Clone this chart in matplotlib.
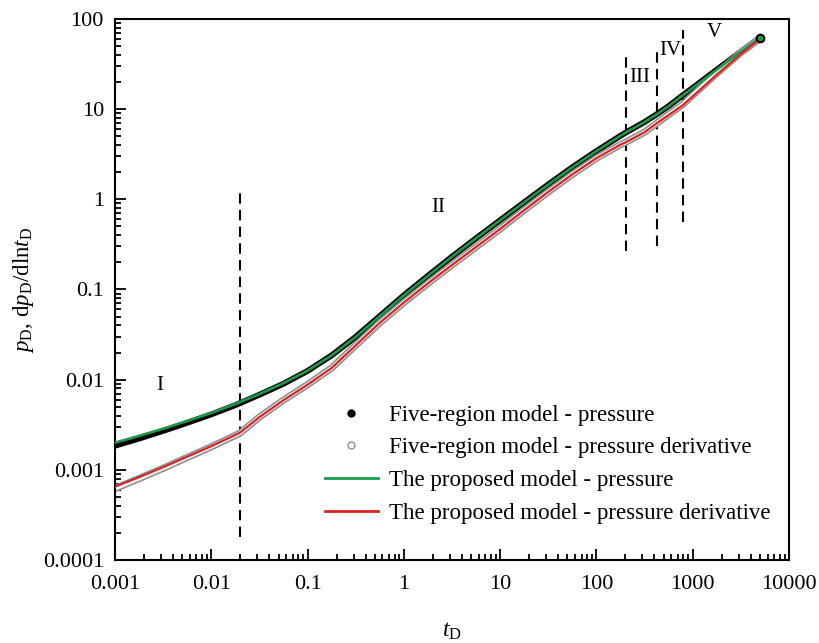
import numpy as np
import matplotlib
matplotlib.use('Agg')
import matplotlib.pyplot as plt
from matplotlib.lines import Line2D
from matplotlib.ticker import LogLocator, FixedLocator, FixedFormatter, NullFormatter

plt.rcParams['font.family'] = ['Liberation Serif', 'DejaVu Serif']
plt.rcParams['mathtext.fontset'] = 'custom'
plt.rcParams['mathtext.rm'] = 'Liberation Serif'
plt.rcParams['mathtext.it'] = 'Liberation Serif:italic'

# dimensionless time
t_D = [0.001, 0.00178, 0.00316, 0.00562, 0.01, 0.0178, 0.02, 0.0316, 0.0562, 0.1,
       0.178, 0.316, 0.562, 1, 1.78, 3.16, 5.62, 10, 17.8, 31.6, 56.2, 100, 178, 202,
       316, 425, 562, 791, 1000, 1780, 3162, 5000]

# five-region model (dense markers in the original)
five_p = [0.00185, 0.00222, 0.0027, 0.00332, 0.00412, 0.00522, 0.0055, 0.0068, 0.0090, 0.0125,
          0.0186, 0.0298, 0.0507, 0.0862, 0.142, 0.231, 0.37, 0.586, 0.929, 1.46, 2.27, 3.43,
          5.07, 5.5, 7.2, 8.8, 10.8, 14.3, 17.2, 27.4, 43.4, 62]
five_dp = [0.00062, 0.0008, 0.00104, 0.00137, 0.0018, 0.00241, 0.00257, 0.00384, 0.00592, 0.0088,
           0.0135, 0.024, 0.0427, 0.0717, 0.117, 0.187, 0.296, 0.469, 0.76, 1.21, 1.89, 2.86,
           4.05, 4.3, 5.55, 7.0, 8.7, 11.3, 14.3, 25, 42.5, 61]

# proposed model (lines)
prop_p = [0.0020, 0.00238, 0.00286, 0.00348, 0.00428, 0.00539, 0.00566, 0.00693, 0.00914, 0.0126,
          0.0186, 0.0298, 0.0507, 0.0862, 0.142, 0.231, 0.37, 0.586, 0.929, 1.46, 2.27, 3.43,
          5.07, 5.5, 7.2, 8.8, 10.8, 14.3, 17.2, 27.4, 43.4, 62]
prop_dp = [0.00065, 0.00083, 0.00107, 0.0014, 0.00183, 0.00244, 0.0026, 0.00384, 0.00592, 0.0088,
           0.0135, 0.024, 0.0427, 0.0717, 0.117, 0.187, 0.296, 0.469, 0.76, 1.21, 1.89, 2.86,
           4.05, 4.3, 5.55, 7.0, 8.6, 11.1, 13.9, 24.2, 40.9, 60]

# region boundaries: (t, p bottom, p top)
bounds_t = [0.02, 202, 425, 791]
bounds_lo = [0.00018, 0.27, 0.30, 0.56]
bounds_hi = [1.26, 37.7, 43, 75]

region_names = ['I', 'II', 'III', 'IV', 'V']
region_t = [0.0029, 2.26, 283, 580, 1660]
region_p = [0.0087, 0.82, 22.6, 45, 70]

green = '#1a9b4b'
red = '#e02020'
grey = '#8f8f8f'

fig = plt.figure(figsize=(8.19, 6.43), dpi=100)
ax = fig.add_axes([0.1404, 0.1291, 0.823, 0.8414])

# five-region pressure: dense black dots -> black band
ax.plot(t_D, five_p, color='black', lw=4.2, solid_capstyle='round',
        solid_joinstyle='round', zorder=2)
ax.plot(t_D, prop_p, color=green, lw=1.9, solid_joinstyle='round', zorder=3)

# five-region derivative: dense open grey circles -> grey band
ax.plot(t_D, five_dp, color=grey, lw=5.2, solid_capstyle='round',
        solid_joinstyle='round', zorder=2)
ax.plot(t_D, five_dp, color='white', lw=2.8, solid_capstyle='round',
        solid_joinstyle='round', zorder=2)
ax.plot(t_D, prop_dp, color=red, lw=1.6, solid_joinstyle='round', zorder=3)

# last point of the five-region pressure
ax.plot(t_D[-1], five_p[-1], 'o', color='black', ms=6, zorder=4)
ax.plot(t_D[-1], prop_p[-1], 'o', color=green, ms=3, zorder=4)

for xb, lo, hi in zip(bounds_t, bounds_lo, bounds_hi):
    ax.plot([xb, xb], [lo, hi], color='black', lw=1.5, ls=(0, (5, 3)), zorder=1)

for name, x, y in zip(region_names, region_t, region_p):
    ax.text(x, y, name, fontsize=15, ha='center', va='center')

ax.set_xscale('log')
ax.set_yscale('log')
ax.set_xlim(0.001, 10000)
ax.set_ylim(0.0001, 100)

xt = [0.001, 0.01, 0.1, 1, 10, 100, 1000, 10000]
yt = [0.0001, 0.001, 0.01, 0.1, 1, 10, 100]
ax.xaxis.set_major_locator(FixedLocator(xt))
ax.xaxis.set_major_formatter(FixedFormatter(['0.001', '0.01', '0.1', '1', '10', '100', '1000', '10000']))
ax.yaxis.set_major_locator(FixedLocator(yt))
ax.yaxis.set_major_formatter(FixedFormatter(['0.0001', '0.001', '0.01', '0.1', '1', '10', '100']))
ax.xaxis.set_minor_locator(LogLocator(base=10, subs=np.arange(2, 10), numticks=20))
ax.yaxis.set_minor_locator(LogLocator(base=10, subs=np.arange(2, 10), numticks=20))
ax.xaxis.set_minor_formatter(NullFormatter())
ax.yaxis.set_minor_formatter(NullFormatter())

ax.tick_params(which='both', direction='in', top=False, right=False, width=1.3,
               labelsize=16, colors='black')
ax.tick_params(which='major', length=8)
ax.tick_params(axis='x', which='major', pad=11)
ax.tick_params(axis='y', which='major', pad=8)
ax.tick_params(which='minor', length=4.5)
for s in ax.spines.values():
    s.set_linewidth(1.5)

ax.set_xlabel('$t_\\mathrm{D}$', fontsize=17, labelpad=19)
ax.set_ylabel('$p_\\mathrm{D}$, d$p_\\mathrm{D}$/dln$t_\\mathrm{D}$', fontsize=16.5, labelpad=5)

handles = [
    Line2D([], [], ls='none', marker='o', color='black', ms=5),
    Line2D([], [], ls='none', marker='o', mfc='white', mec=grey, ms=5),
    Line2D([], [], color=green, lw=2),
    Line2D([], [], color=red, lw=2),
]
labels = ['Five-region model - pressure',
          'Five-region model - pressure derivative',
          'The proposed model - pressure',
          'The proposed model - pressure derivative']
ax.legend(handles, labels, loc='upper left', bbox_to_anchor=(0.298, 0.304), frameon=False,
          fontsize=16.5, handlelength=2.3, handletextpad=0.48, labelspacing=0.51,
          borderaxespad=0)

fig.savefig('out.png', dpi=100)
